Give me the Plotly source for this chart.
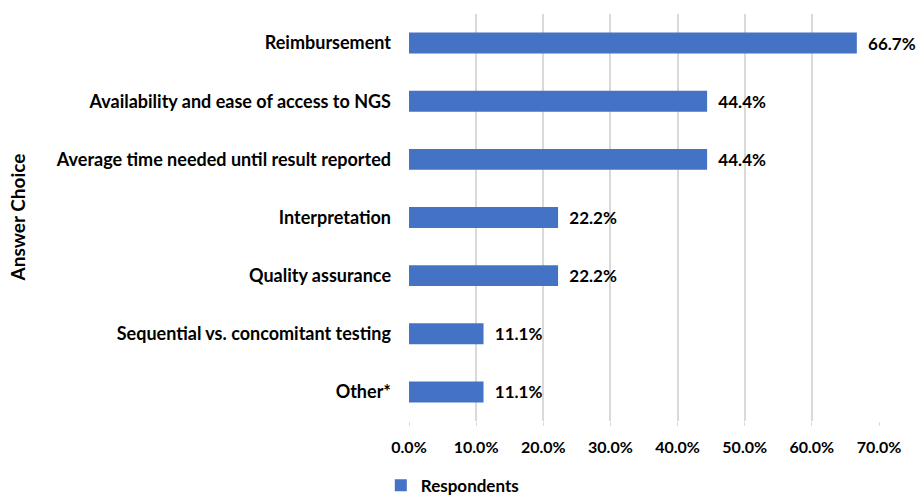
import plotly.graph_objects as go

categories = ["Reimbursement", "Availability and ease of access to NGS",
              "Average time needed until result reported", "Interpretation",
              "Quality assurance", "Sequential vs. concomitant testing", "Other*"]
values = [0.667, 0.444, 0.444, 0.222, 0.222, 0.111, 0.111]
labels = ["66.7%", "44.4%", "44.4%", "22.2%", "22.2%", "11.1%", "11.1%"]
tick_vals = [0, 0.1, 0.2, 0.3, 0.4, 0.5, 0.6, 0.7]
tick_text = ["0.0%", "10.0%", "20.0%", "30.0%", "40.0%", "50.0%", "60.0%", "70.0%"]

FONT = "Lato"
NB = "\u00a0\u00a0"

fig = go.Figure(go.Bar(
    y=categories, x=values, orientation="h", name="Respondents",
    marker=dict(color="#4472C4", line=dict(color="#4472C4", width=0)),
    text=[NB + t for t in labels], textposition="outside", cliponaxis=False,
    constraintext="none",
    textfont=dict(family=FONT, size=17, color="black", weight="bold"),
    showlegend=True,
))

fig.update_layout(
    width=919, height=495,
    margin=dict(l=409, r=40, t=14, b=74, autoexpand=False),
    plot_bgcolor="white", paper_bgcolor="white",
    bargap=0.64,
    font=dict(family=FONT, size=16, color="black", weight="bold"),
    xaxis=dict(range=[0, 0.7], tickvals=tick_vals, ticktext=tick_text,
               showgrid=True, gridcolor="#D9D9D9", gridwidth=1.5,
               zeroline=False, ticks="outside", ticklen=4, tickcolor="#D9D9D9",
               ticklabelstandoff=8, automargin=False,
               tickfont=dict(family=FONT, size=16, weight="bold", color="black"),
               showline=False),
    yaxis=dict(autorange="reversed", showgrid=False, zeroline=False,
               ticks="", ticklabelstandoff=17, automargin=False,
               tickfont=dict(family=FONT, size=18, weight="bold", color="black")),
    legend=dict(orientation="h", x=-0.06, xanchor="left",
                yref="container", y=0.055, yanchor="top",
                font=dict(family=FONT, size=17, weight="bold", color="black")),
)
fig.add_annotation(text="Answer Choice", xref="paper", yref="paper",
                   x=(17 - 409) / 470, y=0.5, xanchor="center", yanchor="middle",
                   textangle=-90, showarrow=False,
                   font=dict(family=FONT, size=19, weight="bold", color="black"))

fig.write_html("out.html", config={"displayModeBar": False},
               post_script="document.body.style.margin='0';")
